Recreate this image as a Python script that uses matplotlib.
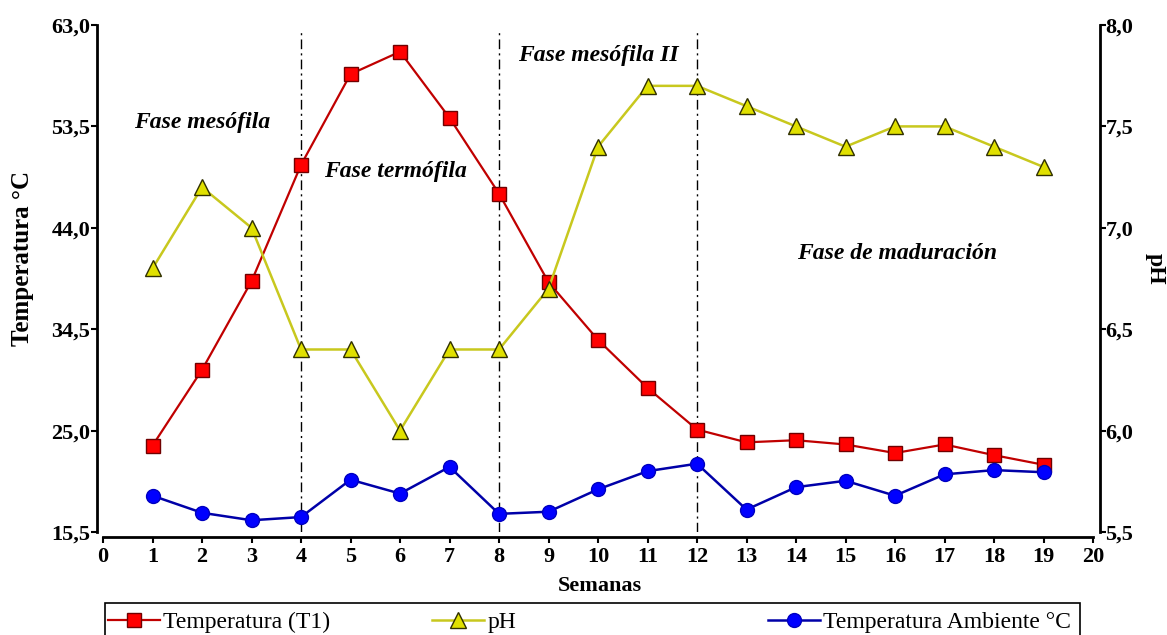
import matplotlib.pyplot as plt
from matplotlib.lines import Line2D
from matplotlib.patches import Rectangle

semanas = list(range(1, 20))
temp_t1 = [23.6, 30.7, 39.0, 49.9, 58.4, 60.5, 54.3, 47.2, 38.9, 33.5,
           29.0, 25.1, 23.9, 24.1, 23.7, 22.9, 23.7, 22.7, 21.8]
ph = [6.8, 7.2, 7.0, 6.4, 6.4, 6.0, 6.4, 6.4, 6.7, 7.4,
      7.7, 7.7, 7.6, 7.5, 7.4, 7.5, 7.5, 7.4, 7.3]
temp_amb = [18.9, 17.3, 16.6, 16.9, 20.4, 19.1, 21.6, 17.2, 17.4, 19.5,
            21.2, 21.9, 17.6, 19.7, 20.3, 18.9, 20.9, 21.3, 21.1]

temp_ticks = [15.5, 25.0, 34.5, 44.0, 53.5, 63.0]
ph_ticks = [5.5, 6.0, 6.5, 7.0, 7.5, 8.0]
x_ticks = list(range(0, 21))
fases_x = [4, 8, 12]

fases = [("Fase mesófila", 2.0, 53.9),
         ("Fase termófila", 5.9, 49.3),
         ("Fase mesófila II", 10.0, 60.1),
         ("Fase de maduración", 16.05, 41.6)]

plt.rcParams['font.family'] = ['Liberation Serif', 'DejaVu Serif']
plt.rcParams['font.weight'] = 'bold'
plt.rcParams['axes.labelweight'] = 'bold'

fig = plt.figure(figsize=(11.67, 6.35), dpi=100)
ax = fig.add_axes([0.0883, 0.1622, 0.8483, 0.7984])
ax2 = ax.twinx()

ax.tick_params(axis='both', direction='out', length=4, width=1.5, pad=1,
               labelsize=16)
ax.tick_params(axis='x', pad=3)
ax2.tick_params(axis='y', direction='out', length=4, width=1.5, pad=0,
                labelsize=16)

# fases del proceso
for xf in fases_x:
    ax.axvline(xf, ymin=0, ymax=0.993, color='black', lw=1.0,
               ls=(0, (7, 3, 1.5, 3)), zorder=1)
for txt, xt, yt in fases:
    ax.text(xt, yt, txt, ha='center', va='center', fontsize=17,
            fontweight='bold', fontstyle='italic')

l_t1, = ax.plot(semanas, temp_t1, color='#C00000', lw=1.6, marker='s',
                markersize=9.5, markerfacecolor='#FF0000',
                markeredgecolor='#700000', markeredgewidth=1.0, zorder=3)
l_amb, = ax.plot(semanas, temp_amb, color='#0000A8', lw=1.8, marker='o',
                 markersize=10, markerfacecolor='#0000FF',
                 markeredgecolor='#0000C0', markeredgewidth=1.0, zorder=3)
l_ph, = ax2.plot(semanas, ph, color='#C8C81E', lw=1.8, marker='^',
                 markersize=11, markerfacecolor='#E0E000',
                 markeredgecolor='#303000', markeredgewidth=1.0, zorder=3)

ax.set_xlim(0, 20)
ax.set_ylim(15.5, 63.0)
ax2.set_ylim(5.5, 8.0)

ax.set_xticks(x_ticks)
ax.set_yticks(temp_ticks,
              labels=[f"{v:.1f}".replace('.', ',') for v in temp_ticks])
ax2.set_yticks(ph_ticks,
               labels=[f"{v:.1f}".replace('.', ',') for v in ph_ticks])

for a in (ax, ax2):
    a.spines['top'].set_visible(False)
ax.spines['right'].set_visible(False)
ax2.spines['left'].set_visible(False)
ax2.spines['bottom'].set_visible(False)
ax.spines['left'].set_position(('outward', 4.3))
ax.spines['bottom'].set_position(('outward', 3.6))
ax2.spines['right'].set_position(('outward', 5))
for s in ('left', 'bottom'):
    ax.spines[s].set_linewidth(2.0)
ax2.spines['right'].set_linewidth(2.0)

ax.set_xlabel("Semanas", fontsize=16, fontweight='bold', va='center')
ax.xaxis.set_label_coords(0.502, -0.1065)
ax.set_ylabel("Temperatura °C", fontsize=18, fontweight='bold', va='center')
ax.yaxis.set_label_coords(-0.0818, 0.54)
ax2.set_ylabel("pH", fontsize=17, fontweight='bold', rotation=270,
               va='center')
ax2.yaxis.set_label_coords(1.0626, 0.52)

# leyenda
fig.patches.append(Rectangle((105 / 1167, -0.05), 975 / 1167, 0.05 + 32 / 635,
                             transform=fig.transFigure, fill=False,
                             edgecolor='black', lw=1.2))
entradas = [(l_t1, "Temperatura (T1)", 108),
            (l_ph, "pH", 432),
            (l_amb, "Temperatura Ambiente °C", 768)]
for linea, texto, px in entradas:
    h = Line2D([], [], color=linea.get_color(), lw=linea.get_linewidth(),
               marker=linea.get_marker(), markersize=linea.get_markersize(),
               markerfacecolor=linea.get_markerfacecolor(),
               markeredgecolor=linea.get_markeredgecolor())
    fig.legend(handles=[h], labels=[texto], loc='center left',
               bbox_to_anchor=(px / 1167, 1 - 622 / 635), frameon=False,
               prop={'size': 17, 'weight': 'normal'},
               handlelength=2.2, handletextpad=0.15,
               borderpad=0, borderaxespad=0)

fig.savefig("out.png", dpi=100)
